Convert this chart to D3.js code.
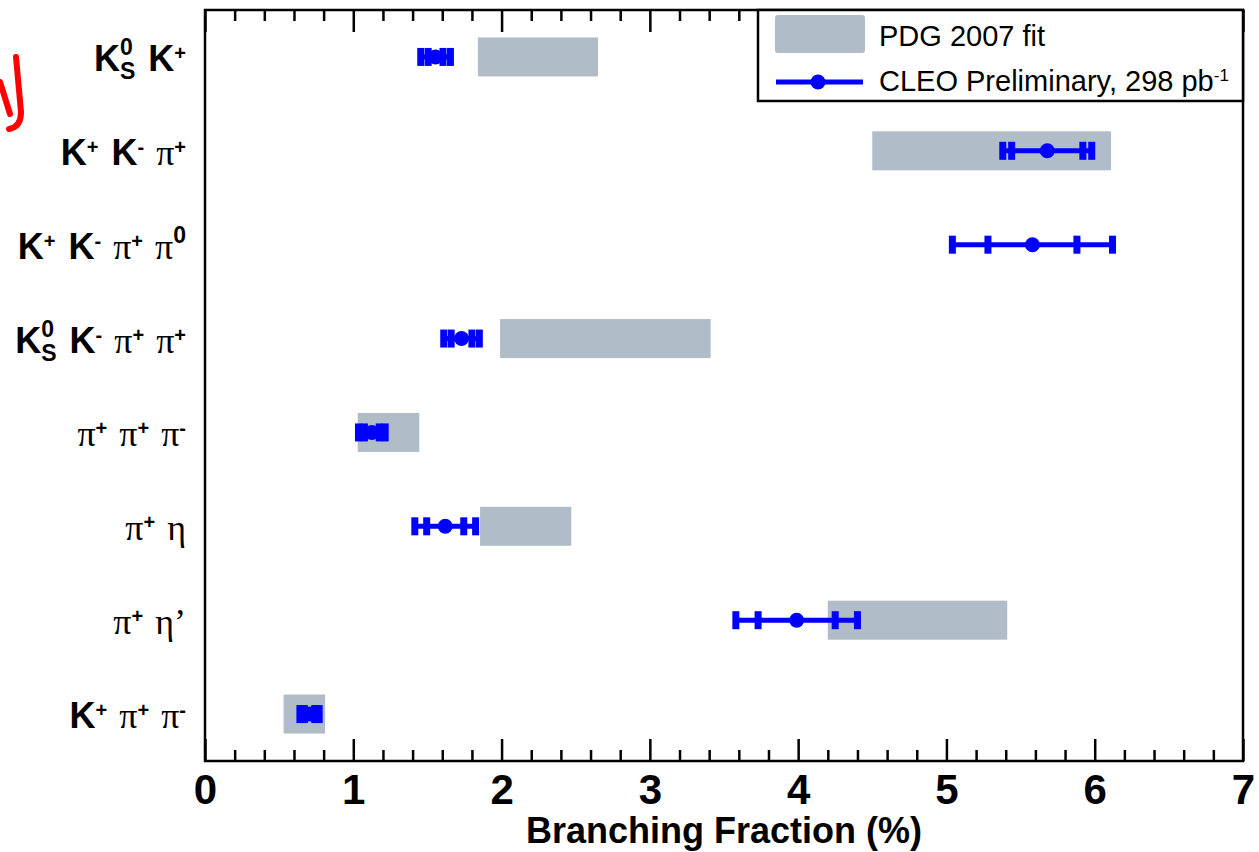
<!DOCTYPE html>
<html>
<head>
<meta charset="utf-8">
<script src="https://cdnjs.cloudflare.com/ajax/libs/d3/7.8.5/d3.min.js"></script>
<style>
body { margin: 0; background: #fff; }
.tick line { stroke: #000; stroke-width: 2.5; }
</style>
</head>
<body>
<script>
"use strict";
var svg_width = 1259;
var svg_height = 852;
var plot_left = 205, plot_right = 1243, plot_top = 10, plot_bottom = 761;

// decay modes, top to bottom; each token = [text, style]
// styles: k = bold sans, p = greek serif, sup / sub = small raised / lowered, sup0 = bold raised digit
var decay_modes = [
    [["K","k"],["0","sup0"],["S","sub"],[" K","k"],["+","sup"]],
    [["K","k"],["+","sup"],[" K","k"],["-","sup"],[" π","p"],["+","sup"]],
    [["K","k"],["+","sup"],[" K","k"],["-","sup"],[" π","p"],["+","sup"],[" π","p"],["0","sup0"]],
    [["K","k"],["0","sup0"],["S","sub"],[" K","k"],["-","sup"],[" π","p"],["+","sup"],[" π","p"],["+","sup"]],
    [["π","p"],["+","sup"],[" π","p"],["+","sup"],[" π","p"],["-","sup"]],
    [["π","p"],["+","sup"],[" η","p"]],
    [["π","p"],["+","sup"],[" η’","p"]],
    [["K","k"],["+","sup"],[" π","p"],["+","sup"],[" π","p"],["-","sup"]]
];

// PDG 2007 fit ranges (%), null = no fit shown
var pdg_low  = [1.84, 4.50, null, 1.99, 1.03,  1.855, 4.20, 0.53];
var pdg_high = [2.65, 6.11, null, 3.41, 1.445, 2.47,  5.41, 0.81];

// CLEO preliminary: central value, stat error, total error (%)
var cleo_value = [1.555, 5.68, 5.58, 1.73, 1.125, 1.62,  3.99, 0.705];
var cleo_stat  = [0.05,  0.24, 0.30, 0.07, 0.05,  0.125, 0.26, 0.035];
var cleo_total = [0.10,  0.30, 0.54, 0.12, 0.09,  0.205, 0.41, 0.065];

var x_ticks = [0, 1, 2, 3, 4, 5, 6, 7];
var x_minor_ticks = d3.range(0, 35).map(function(d) { return d / 5; }).filter(function(d) { return d % 1 != 0; });

var pdg_color = "#b0bcc7";
var cleo_color = "#0000ff";

var svg = d3.select("body")
    .append("svg")
    .attr("width", svg_width)
    .attr("height", svg_height)
    .style("font-family", "'Liberation Sans', Arial, sans-serif");

var xscale = d3.scaleLinear()
    .domain([0, 7])
    .range([plot_left, plot_right]);
var yscale = d3.scaleBand()
    .domain(d3.range(decay_modes.length))
    .range([plot_top, plot_bottom]);

function ycenter(i)
{
    return yscale(i) + yscale.bandwidth() / 2;
}

// red scribble in the top-left corner of the original
svg.append("path")
    .attr("d", "M16,57 L21,112 Q21,127 9,129 M0,82 L10,114")
    .attr("fill", "none")
    .attr("stroke", "#ff0000")
    .attr("stroke-width", 6)
    .attr("stroke-linecap", "round");

// PDG boxes
svg.selectAll("rect.pdg")
    .data(d3.range(decay_modes.length).filter(function(i) { return pdg_low[i] != null; }))
    .enter()
    .append("rect")
    .attr("class", "pdg")
    .attr("x", function(i) { return xscale(pdg_low[i]); })
    .attr("y", function(i) { return ycenter(i) - 19.5; })
    .attr("width", function(i) { return xscale(pdg_high[i]) - xscale(pdg_low[i]); })
    .attr("height", 39)
    .attr("fill", pdg_color);

// CLEO error bars
var cleo = svg.selectAll("g.cleo")
    .data(d3.range(decay_modes.length))
    .enter()
    .append("g")
    .attr("class", "cleo");
cleo.append("line")
    .attr("x1", function(i) { return xscale(cleo_value[i] - cleo_total[i]); })
    .attr("x2", function(i) { return xscale(cleo_value[i] + cleo_total[i]); })
    .attr("y1", ycenter)
    .attr("y2", ycenter)
    .attr("stroke", cleo_color)
    .attr("stroke-width", 5);
cleo.each(function(i)
{
    var caps = [cleo_value[i] - cleo_total[i], cleo_value[i] - cleo_stat[i],
                cleo_value[i] + cleo_stat[i], cleo_value[i] + cleo_total[i]];
    d3.select(this).selectAll("rect")
        .data(caps)
        .enter()
        .append("rect")
        .attr("x", function(d) { return xscale(d) - 3.5; })
        .attr("y", ycenter(i) - 9)
        .attr("width", 7)
        .attr("height", 18)
        .attr("fill", cleo_color);
});
cleo.append("circle")
    .attr("cx", function(i) { return xscale(cleo_value[i]); })
    .attr("cy", ycenter)
    .attr("r", 7.5)
    .attr("fill", cleo_color);

// axes: ticks point into the frame, bottom and top
var x_axis_bottom = d3.axisBottom(xscale)
    .tickValues(x_ticks)
    .tickSizeInner(-22)
    .tickSizeOuter(0)
    .tickPadding(13)
    .tickFormat(d3.format("d"));
var x_axis_bottom_minor = d3.axisBottom(xscale)
    .tickValues(x_minor_ticks)
    .tickSizeInner(-11)
    .tickSizeOuter(0)
    .tickFormat("");
var x_axis_top = d3.axisTop(xscale)
    .tickValues(x_ticks)
    .tickSizeInner(-22)
    .tickSizeOuter(0)
    .tickFormat("");
var x_axis_top_minor = d3.axisTop(xscale)
    .tickValues(x_minor_ticks)
    .tickSizeInner(-11)
    .tickSizeOuter(0)
    .tickFormat("");

[[x_axis_bottom, plot_bottom], [x_axis_bottom_minor, plot_bottom],
 [x_axis_top, plot_top], [x_axis_top_minor, plot_top]].forEach(function(a)
{
    var g = svg.append("g")
        .attr("transform", "translate(0," + a[1] + ")")
        .call(a[0]);
    g.select(".domain").remove();
    g.selectAll("text")
        .attr("font-family", "'Liberation Sans', Arial, sans-serif")
        .attr("font-size", 42)
        .attr("font-weight", "bold")
        .attr("fill", "#000");
});

// frame
svg.append("rect")
    .attr("x", plot_left)
    .attr("y", plot_top)
    .attr("width", plot_right - plot_left)
    .attr("height", plot_bottom - plot_top)
    .attr("fill", "none")
    .attr("stroke", "#000")
    .attr("stroke-width", 2.5);

// x axis title
svg.append("text")
    .attr("x", (plot_left + plot_right) / 2)
    .attr("y", 843)
    .attr("text-anchor", "middle")
    .attr("font-size", 36)
    .attr("font-weight", "bold")
    .text("Branching Fraction (%)");

// category labels
var label = svg.selectAll("text.mode")
    .data(decay_modes)
    .enter()
    .append("text")
    .attr("class", "mode")
    .attr("x", 186)
    .attr("y", function(d, i) { return ycenter(i) + 14; })
    .attr("text-anchor", "end");
label.each(function(tokens)
{
    var t = d3.select(this);
    tokens.forEach(function(tok)
    {
        var s = t.append("tspan").text(tok[0]);
        if(tok[0].charAt(0) == " ")
        {
            s.attr("dx", 3);
        }
        if(tok[1] == "k")
        {
            s.attr("font-size", 36).attr("font-weight", "bold");
        }
        else if(tok[1] == "p")
        {
            s.attr("font-size", 36).attr("font-family", "'Liberation Serif', 'DejaVu Serif', serif");
        }
        else if(tok[1] == "sup0")
        {
            s.attr("font-size", 23).attr("font-weight", "bold").attr("baseline-shift", 16);
        }
        else if(tok[1] == "sub")
        {
            s.attr("font-size", 23).attr("font-weight", "bold").attr("baseline-shift", -8).attr("dx", -12.8);
        }
        else
        {
            s.attr("font-size", 20).attr("font-weight", "bold").attr("baseline-shift", 11);
        }
    });
});

// legend
var legend = svg.append("g");
legend.append("rect")
    .attr("x", 758)
    .attr("y", plot_top)
    .attr("width", plot_right - 758)
    .attr("height", 91)
    .attr("fill", "#fff")
    .attr("stroke", "#000")
    .attr("stroke-width", 2.5);
legend.append("rect")
    .attr("x", 775)
    .attr("y", 15)
    .attr("width", 90)
    .attr("height", 38)
    .attr("rx", 3)
    .attr("fill", pdg_color);
legend.append("text")
    .attr("x", 879)
    .attr("y", 46)
    .attr("font-size", 29)
    .text("PDG 2007 fit");
legend.append("line")
    .attr("x1", 776)
    .attr("x2", 863)
    .attr("y1", 82)
    .attr("y2", 82)
    .attr("stroke", cleo_color)
    .attr("stroke-width", 5);
legend.append("circle")
    .attr("cx", 818)
    .attr("cy", 82)
    .attr("r", 7.5)
    .attr("fill", cleo_color);
var cleo_label = legend.append("text")
    .attr("x", 879)
    .attr("y", 91)
    .attr("font-size", 29);
cleo_label.append("tspan").text("CLEO Preliminary, 298 pb");
cleo_label.append("tspan").attr("font-size", 17).attr("baseline-shift", 10).text("-1");
</script>
</body>
</html>
